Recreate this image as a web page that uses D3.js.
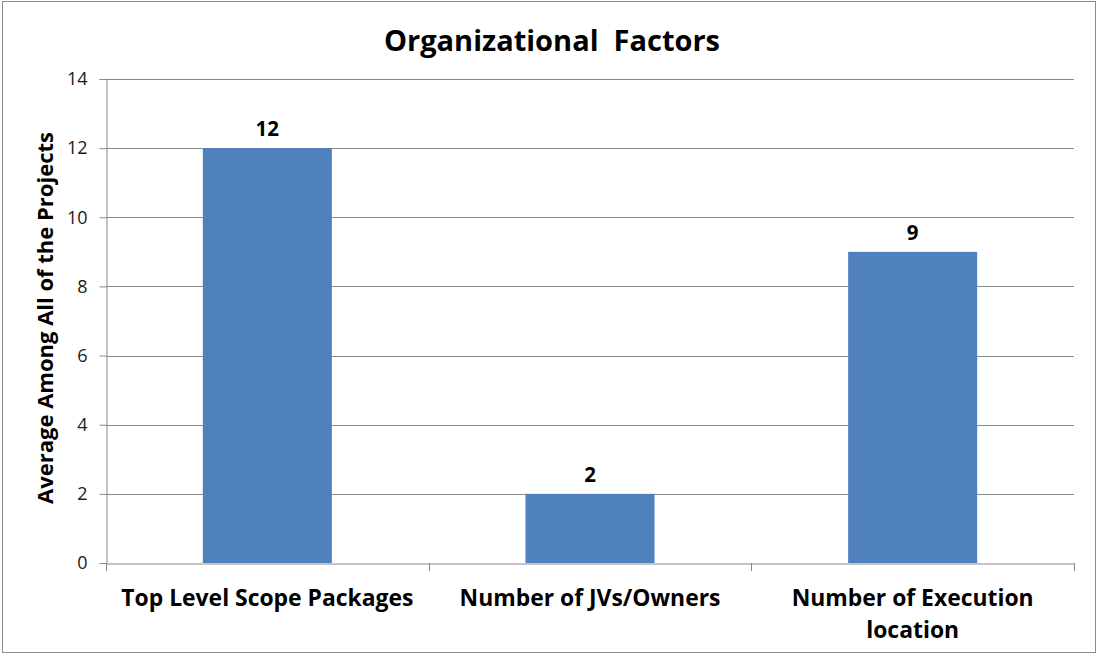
<!DOCTYPE html>
<html>
<head>
<meta charset="utf-8">
<script src="https://cdn.jsdelivr.net/npm/d3@7"></script>
<style>
  html, body { margin: 0; padding: 0; background: #fff; }
  svg { display: block; }
</style>
</head>
<body>
<svg id="chart" width="1098" height="656"></svg>
<script>
// Chart data
const categories = ["Top Level Scope Packages", "Number of JVs/Owners", "Number of Execution location"];
const categoryLines = [["Top Level Scope Packages"], ["Number of JVs/Owners"], ["Number of Execution", "location"]];
const values = [12, 2, 9];
const yTicks = [0, 2, 4, 6, 8, 10, 12, 14];
const chartTitle = "Organizational\u00A0 Factors";
const yTitle = "Average Among All of the Projects";

const W = 1098, H = 656;
const margin = { left: 106, right: 24, top: 79, bottom: 93 };
const font = "'Open Sans', 'Noto Sans', sans-serif";
const gridColor = "#8a8a8a";

const svg = d3.select("#chart");

// Outer frame
svg.append("rect")
  .attr("x", 2.5).attr("y", 1.5)
  .attr("width", 1093).attr("height", 651)
  .attr("fill", "#fff").attr("stroke", "#8c8c8c").attr("stroke-width", 1);

const x = d3.scaleBand()
  .domain(categories)
  .range([margin.left, W - margin.right])
  .paddingInner(0.6).paddingOuter(0.3);

const y = d3.scaleLinear()
  .domain([0, 14])
  .range([H - margin.bottom, margin.top]);

// Horizontal gridlines
svg.append("g")
  .selectAll("line")
  .data(yTicks.filter(t => t > 0))
  .join("line")
  .attr("x1", margin.left).attr("x2", W - margin.right)
  .attr("y1", d => Math.round(y(d)) + 0.5).attr("y2", d => Math.round(y(d)) + 0.5)
  .attr("stroke", gridColor).attr("stroke-width", 1);

// Bars
svg.append("g")
  .selectAll("rect")
  .data(values)
  .join("rect")
  .attr("x", (d, i) => x(categories[i]))
  .attr("width", x.bandwidth())
  .attr("y", d => y(d))
  .attr("height", d => y(0) - y(d))
  .attr("fill", "#4F81BD");

// Value labels
svg.append("g")
  .selectAll("text")
  .data(values)
  .join("text")
  .attr("x", (d, i) => x(categories[i]) + x.bandwidth() / 2)
  .attr("y", d => y(d) - 12)
  .attr("text-anchor", "middle")
  .attr("font-family", font).attr("font-weight", "bold").attr("font-size", 20.5)
  .attr("fill", "#000")
  .text(d => d);

// Y axis
const yAxis = svg.append("g")
  .attr("transform", `translate(${margin.left + 0.5},0)`)
  .call(d3.axisLeft(y).tickValues(yTicks).tickSize(7).tickPadding(12).tickFormat(d3.format("d")));
yAxis.select(".domain").attr("stroke", gridColor);
yAxis.selectAll(".tick line").attr("stroke", gridColor);
yAxis.selectAll(".tick text")
  .attr("font-family", font).attr("font-size", 18).attr("fill", "#1a1a1a");

// X axis
const xAxis = svg.append("g")
  .attr("transform", `translate(0,${Math.round(y(0)) + 0.5})`)
  .call(d3.axisBottom(x).tickSize(0).tickFormat(""));
xAxis.select(".domain").attr("stroke", gridColor);

// Category separators
const step = (W - margin.right - margin.left) / categories.length;
svg.append("g")
  .selectAll("line")
  .data(d3.range(categories.length + 1))
  .join("line")
  .attr("x1", i => Math.round(margin.left + i * step) + 0.5)
  .attr("x2", i => Math.round(margin.left + i * step) + 0.5)
  .attr("y1", y(0)).attr("y2", y(0) + 8)
  .attr("stroke", gridColor);

// Category labels
const catG = svg.append("g");
categories.forEach((c, i) => {
  const cx = x(c) + x.bandwidth() / 2;
  const t = catG.append("text")
    .attr("x", cx).attr("y", y(0) + 43)
    .attr("text-anchor", "middle")
    .attr("font-family", font).attr("font-weight", "bold").attr("font-size", 22.9)
    .attr("fill", "#000");
  categoryLines[i].forEach((line, j) => {
    t.append("tspan").attr("x", cx).attr("dy", j === 0 ? 0 : 32).text(line);
  });
});

// Title
svg.append("text")
  .attr("x", 552).attr("y", 51)
  .attr("text-anchor", "middle")
  .attr("font-family", font).attr("font-weight", "bold").attr("font-size", 29)
  .attr("fill", "#000")
  .text(chartTitle);

// Y axis title
svg.append("text")
  .attr("transform", `translate(53,${(y(0) + y(14)) / 2 - 3}) rotate(-90)`)
  .attr("text-anchor", "middle")
  .attr("font-family", font).attr("font-weight", "bold").attr("font-size", 22)
  .attr("fill", "#000")
  .text(yTitle);
</script>
</body>
</html>
